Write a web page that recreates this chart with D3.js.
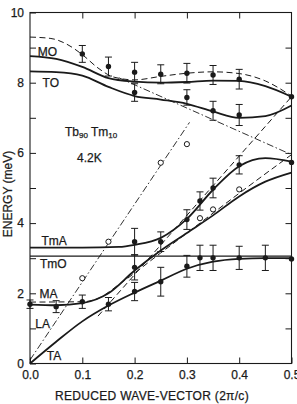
<!DOCTYPE html>
<html>
<head>
<meta charset="utf-8">
<script src="https://cdn.jsdelivr.net/npm/d3@7"></script>
<style>
  body { margin: 0; background: #fff; }
  svg { display: block; font-family: "Liberation Sans", Arial, sans-serif; }
  text { stroke: #1a1a1a; stroke-width: 0.25px; }
</style>
</head>
<body>
<svg id="chart" width="297" height="404"></svg>
<script>
// tick values
const kTicks = [0, 0.1, 0.2, 0.3, 0.4, 0.5]
const eTicks = [0, 1, 2, 3, 4, 5, 6, 7, 8, 9, 10]

// calculated dispersion curves, [k, E]
const moCalc = [[0, 8.76], [0.05, 8.68], [0.1, 8.45], [0.15, 8.13], [0.2, 8.03], [0.25, 8.0], [0.3, 8.02], [0.35, 8.06], [0.4, 8.05], [0.45, 7.9], [0.5, 7.6]]
const toCalc = [[0, 8.32], [0.05, 8.3], [0.1, 8.2], [0.15, 7.88], [0.2, 7.62], [0.25, 7.52], [0.3, 7.4], [0.35, 7.18], [0.4, 7.0], [0.45, 7.05], [0.5, 7.35]]
const moDashed = [[0, 9.3], [0.04, 9.26], [0.07, 9.1], [0.1, 8.8], [0.13, 8.42], [0.16, 8.16], [0.2, 8.08], [0.25, 8.18], [0.3, 8.27], [0.35, 8.31], [0.4, 8.26], [0.45, 8.05], [0.5, 7.62]]
const tmaCalc = [[0, 3.3], [0.1, 3.3], [0.17, 3.32], [0.2, 3.38], [0.25, 3.58], [0.3, 4.12], [0.35, 4.95], [0.4, 5.62], [0.45, 5.85], [0.5, 5.75]]
const tmoCalc = [[0, 3.06], [0.5, 3.06]]
const maCalc = [[0, 1.68], [0.05, 1.66], [0.1, 1.72], [0.15, 2.0], [0.2, 2.65], [0.25, 3.22], [0.3, 3.72], [0.35, 4.22], [0.4, 4.76], [0.45, 5.18], [0.5, 5.44]]
const taCalc = [[0, 0], [0.05, 0.62], [0.1, 1.2], [0.15, 1.65], [0.2, 2.02], [0.25, 2.36], [0.3, 2.7], [0.35, 2.9], [0.4, 2.98], [0.45, 3.0], [0.5, 3.0]]

// unperturbed (dashed / dash-dot) branches
const maDashed = [[0, 1.75], [0.1, 1.76], [0.13, 1.85], [0.17, 2.25], [0.25, 3.15], [0.325, 4.0], [0.4, 4.85], [0.5, 5.95]]
const taFolded = [[0.13, 1.35], [0.5, 7.6]]
const laLine = [[0, 0.1], [0.305, 6.87]]
const opticLine = [[0.17, 8.14], [0.5, 5.95]]

// measured points [k, E, error]
const filledPts = [
  [0.1, 8.82, 0.24], [0.15, 8.46, 0.27], [0.2, 8.3, 0.28], [0.2, 7.72, 0.25], [0.25, 8.24, 0.27],
  [0.3, 8.27, 0.28], [0.3, 7.58, 0.22], [0.35, 8.22, 0.27], [0.35, 7.2, 0.27], [0.4, 8.1, 0.28],
  [0.4, 7.08, 0.3], [0.5, 7.6, 0],
  [0.2, 3.47, 0.38], [0.25, 3.47, 0.28], [0.3, 4.1, 0.28], [0.325, 4.63, 0.26], [0.35, 5.0, 0.28],
  [0.4, 5.66, 0.26], [0.5, 5.73, 0],
  [0, 1.69, 0.12], [0.05, 1.62, 0.17], [0.1, 1.76, 0.19], [0.15, 1.69, 0.19], [0.2, 2.05, 0.26],
  [0.2, 2.74, 0.36], [0.25, 2.33, 0.41], [0.3, 2.77, 0.31], [0.325, 3.01, 0.36], [0.35, 3.01, 0.36],
  [0.4, 3.01, 0.33], [0.45, 3.01, 0.36], [0.5, 2.98, 0]
]
const openPts = [[0.1, 2.43], [0.15, 3.47], [0.25, 5.72], [0.3, 6.25], [0.325, 4.14], [0.35, 4.39], [0.4, 4.96]]

// branch names, anchored at [k, E]
const branchLabels = [["MO", 0.015, 8.76], ["TO", 0.024, 7.88], ["TmA", 0.022, 3.38], ["TmO", 0.019, 2.72], ["MA", 0.018, 1.88], ["LA", 0.01, 1.01], ["TA", 0.032, 0.1]]

const svg = d3.select("#chart")
const x = d3.scaleLinear().domain([0, 0.5]).range([30, 291.5])
const y = d3.scaleLinear().domain([0, 10]).range([363.5, 12.5])
const ink = "#1a1a1a"

// axes, ticks pointing inwards
svg.append("g").attr("transform", `translate(0,${y(0)})`)
  .call(d3.axisBottom(x).tickValues(kTicks).tickSize(-6).tickPadding(6.5).tickFormat(d3.format(".1f")))
svg.append("g").attr("transform", `translate(0,${y(10)})`)
  .call(d3.axisTop(x).tickValues(kTicks.slice(1, 5)).tickSize(-6).tickFormat(""))
svg.append("g").attr("transform", `translate(${x(0)},0)`)
  .call(d3.axisLeft(y).tickValues(eTicks).tickSize(-6).tickPadding(6).tickFormat(d => d % 2 === 0 ? d : ""))
svg.append("g").attr("transform", `translate(${x(0.5)},0)`)
  .call(d3.axisRight(y).tickValues(eTicks.slice(1, 10)).tickSize(-6).tickFormat(""))
svg.selectAll(".domain").remove()
svg.selectAll(".tick line").attr("stroke", ink)
svg.selectAll(".tick text").attr("fill", ink).attr("font-size", 12)
  .attr("font-family", "Liberation Sans, Arial, sans-serif")

svg.append("rect")
  .attr("x", x(0)).attr("y", y(10))
  .attr("width", x(0.5) - x(0)).attr("height", y(0) - y(10))
  .attr("fill", "none").attr("stroke", ink).attr("stroke-width", 1.1)

const line = d3.line().x(d => x(d[0])).y(d => y(d[1])).curve(d3.curveMonotoneX)

function drawCurve(data, width, dash) {
  svg.append("path").datum(data)
    .attr("d", line)
    .attr("fill", "none")
    .attr("stroke", ink)
    .attr("stroke-width", width)
    .attr("stroke-dasharray", dash)
}

drawCurve(moDashed, 1, "6,3.5")
drawCurve(maDashed, 1, "6,3.5")
drawCurve(taFolded, 1, "6,3.5")
drawCurve(laLine, 0.9, "7,2.5,1.5,2.5")
drawCurve(opticLine, 0.9, "7,2.5,1.5,2.5")

drawCurve(moCalc, 1.8, null)
drawCurve(toCalc, 1.8, null)
drawCurve(tmaCalc, 1.8, null)
drawCurve(tmoCalc, 1.4, null)
drawCurve(maCalc, 1.8, null)
drawCurve(taCalc, 1.8, null)

// error bars
const bars = svg.append("g").attr("stroke", ink).attr("stroke-width", 1)
filledPts.filter(d => d[2] > 0).forEach(d => {
  const cx = x(d[0]), y0 = y(d[1] - d[2]), y1 = y(d[1] + d[2])
  bars.append("line").attr("x1", cx).attr("x2", cx).attr("y1", y0).attr("y2", y1)
  bars.append("line").attr("x1", cx - 3.5).attr("x2", cx + 3.5).attr("y1", y0).attr("y2", y0)
  bars.append("line").attr("x1", cx - 3.5).attr("x2", cx + 3.5).attr("y1", y1).attr("y2", y1)
})

svg.append("g").selectAll("circle").data(filledPts).join("circle")
  .attr("cx", d => x(d[0])).attr("cy", d => y(d[1])).attr("r", 2.7)
  .attr("fill", ink)

svg.append("g").selectAll("circle").data(openPts).join("circle")
  .attr("cx", d => x(d[0])).attr("cy", d => y(d[1])).attr("r", 2.6)
  .attr("fill", "#fff").attr("stroke", ink).attr("stroke-width", 1)

// branch labels
svg.append("g").selectAll("text").data(branchLabels).join("text")
  .attr("x", d => x(d[1])).attr("y", d => y(d[2]))
  .attr("font-size", 12).attr("fill", ink)
  .text(d => d[0])

// sample and temperature
const sample = svg.append("text").attr("x", 65).attr("y", 135.5).attr("font-size", 12).attr("fill", ink)
sample.append("tspan").text("Tb")
sample.append("tspan").attr("font-size", 8).attr("dy", 2).text("90")
sample.append("tspan").attr("dx", 3).attr("dy", -2).text("Tm")
sample.append("tspan").attr("font-size", 8).attr("dy", 2).text("10")
svg.append("text").attr("x", 77).attr("y", 161.5).attr("font-size", 12).attr("fill", ink).text("4.2K")

// axis titles
svg.append("text")
  .attr("transform", `translate(12,194) rotate(-90)`)
  .attr("text-anchor", "middle").attr("font-size", 12).attr("fill", ink)
  .text("ENERGY (meV)")
svg.append("text")
  .attr("x", 152).attr("y", 400)
  .attr("text-anchor", "middle").attr("font-size", 12).attr("letter-spacing", 0.3).attr("fill", ink)
  .text("REDUCED WAVE-VECTOR (2π/c)")
</script>
</body>
</html>
